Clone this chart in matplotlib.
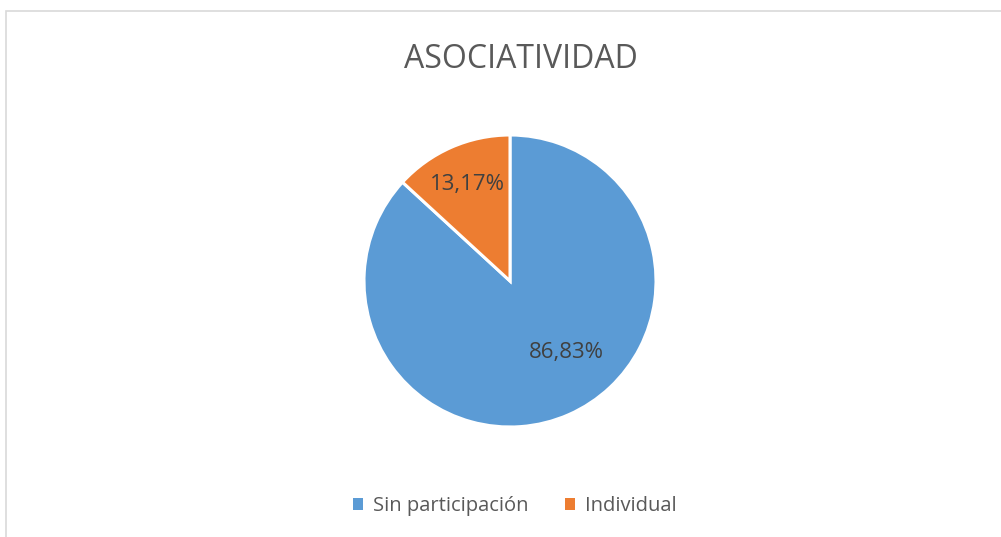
import matplotlib
matplotlib.use("Agg")
import matplotlib.pyplot as plt
from matplotlib.patches import Rectangle

categories = ["Sin participación", "Individual"]
values = [86.83, 13.17]
colors = ["#5B9BD5", "#ED7D31"]
title = "ASOCIATIVIDAD"

W, H = 1001, 537
fig = plt.figure(figsize=(W / 100, H / 100), dpi=100)
fig.patch.set_facecolor("white")
plt.rcParams["font.family"] = ["Open Sans", "DejaVu Sans"]

# chart border
fig.patches.append(Rectangle((5.5 / W, -0.1), 1.2, 1.1 - 10.5 / H + 0.0,
                             transform=fig.transFigure, fill=False,
                             edgecolor="#d9d9d9", linewidth=1.2))

cx, cy, r = 510, 281, 146
ax = fig.add_axes([(cx - r) / W, (H - cy - r) / H, 2 * r / W, 2 * r / H])
wedges, texts, autotexts = ax.pie(
    values, colors=colors, startangle=90, counterclock=False,
    autopct=lambda p: f"{p:.2f}%".replace(".", ","), pctdistance=0.72,
    wedgeprops=dict(edgecolor="white", linewidth=2.2),
    textprops=dict(color="#404040", fontsize=16))
autotexts[0].set_position((0.385, -0.49))
ax.set_xlim(-1, 1)
ax.set_ylim(-1, 1)
ax.set_aspect("auto")
ax.axis("off")

fig.text(521 / W, 1 - 60 / H, title, ha="center", va="center",
         fontsize=23, color="#595959")

leg = fig.legend(wedges, categories, loc="center", bbox_to_anchor=(515 / W, 1 - 506 / H),
                 ncol=2, frameon=False, fontsize=14.5, handlelength=0.5, handleheight=0.5,
                 handletextpad=0.5, columnspacing=1.8, labelcolor="#595959")
for h in leg.legend_handles:
    h.set_linewidth(0)

fig.savefig("out.png", dpi=100, facecolor="white")
